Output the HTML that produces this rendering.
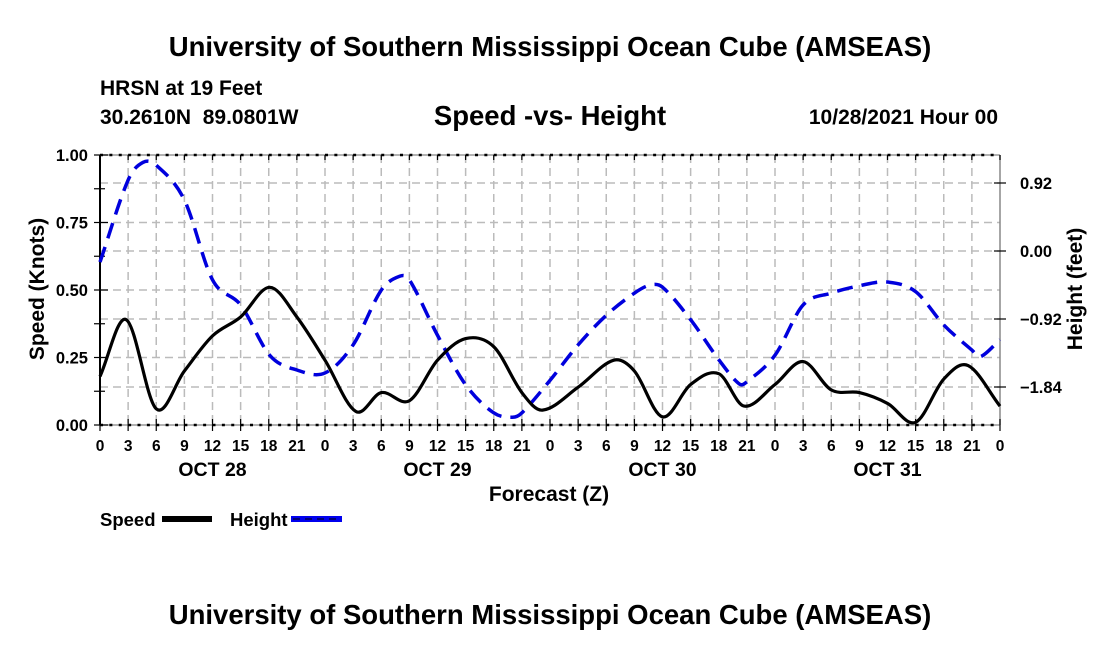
<!DOCTYPE html>
<html><head><meta charset="utf-8"><style>
body{margin:0;background:#fff}
svg{display:block;font-family:"Liberation Sans",sans-serif;font-weight:bold}
</style></head><body>
<svg id="c" width="1100" height="650" viewBox="0 0 1100 650">
<text x="550" y="56" text-anchor="middle" font-size="27.5">University of Southern Mississippi Ocean Cube (AMSEAS)</text>
<text x="100" y="95" font-size="21">HRSN at 19 Feet</text>
<text x="100" y="124" font-size="21">30.2610N&#160;&#160;89.0801W</text>
<text x="550" y="125" text-anchor="middle" font-size="27.5">Speed -vs- Height</text>
<text x="998" y="124" text-anchor="end" font-size="21">10/28/2021 Hour 00</text>
<g id="grid"></g>
<g id="axes"></g>
<g id="series"></g>
<text x="549" y="501" text-anchor="middle" font-size="21">Forecast (Z)</text>
<text transform="translate(44,289) rotate(-90)" text-anchor="middle" font-size="21">Speed (Knots)</text>
<text transform="translate(1082,289) rotate(-90)" text-anchor="middle" font-size="21">Height (feet)</text>
<g>
<text x="100" y="526" font-size="18.5">Speed</text>
<rect x="162" y="516" width="50" height="6" fill="#000"/>
</g>
<g>
<text x="230" y="526" font-size="18.5">Height</text>
<rect x="291" y="516" width="51" height="6" fill="#0000ee"/>
<line x1="293" y1="519" x2="340" y2="519" stroke="#000" stroke-width="1" stroke-dasharray="7,5"/>
</g>
<text x="550" y="624" text-anchor="middle" font-size="27.5">University of Southern Mississippi Ocean Cube (AMSEAS)</text>
</svg>
<script>
const speedHours=[0,2.8,6,9,12,15,18.1,21,24,27.3,30,33,36,39,42,45,47.2,51,54.8,57,60,63,66,68.7,72,75,78,81,84,87,90,92.6,96];
const speedValues=[0.18,0.39,0.06,0.2,0.33,0.40,0.51,0.40,0.24,0.05,0.12,0.09,0.24,0.32,0.29,0.12,0.055,0.14,0.24,0.20,0.03,0.15,0.19,0.07,0.15,0.235,0.13,0.12,0.08,0.01,0.17,0.22,0.07];
const heightHours=[0,3,4.6,6,9,12,15,18.1,21,24,27,30,32,33,36,39,42,44,45,48,51,54,57,58.7,60,63,66,68.2,69,72,75,78,81,84,87,90,93,93.9,96];
const heightValues=[-0.15,0.96,1.2,1.16,0.69,-0.39,-0.73,-1.41,-1.61,-1.65,-1.27,-0.53,-0.34,-0.39,-1.14,-1.81,-2.19,-2.25,-2.19,-1.75,-1.27,-0.87,-0.57,-0.46,-0.49,-0.93,-1.47,-1.80,-1.77,-1.41,-0.73,-0.57,-0.47,-0.42,-0.55,-1.0,-1.34,-1.43,-1.2];
const xTickLabels=["0","3","6","9","12","15","18","21"];
const dayLabels=["OCT 28","OCT 29","OCT 30","OCT 31"];
const speedTicks=[0,0.25,0.5,0.75,1.0];
const heightTicks=[0.92,0,-0.92,-1.84];
const NS="http://www.w3.org/2000/svg";
const X0=100,X1=1000,Y0=425,Y1=155;
const xs=h=>X0+(X1-X0)*h/96;
const ys=v=>Y0-(Y0-Y1)*v;
const yh=f=>251-f*68/0.92;
function mk(t,a,p){const e=document.createElementNS(NS,t);for(const k in a)e.setAttribute(k,a[k]);p.appendChild(e);return e;}
const grid=document.getElementById('grid'),axes=document.getElementById('axes'),ser=document.getElementById('series');
const gs={stroke:"#bbb","stroke-width":1.5,"stroke-dasharray":"8,5"};
for(let h=3;h<96;h+=3){const l=mk('line',Object.assign({x1:xs(h),x2:xs(h),y1:Y1,y2:Y0},gs),grid);

}
speedTicks.slice(1,4).forEach(v=>{const l=mk('line',Object.assign({x1:X0,x2:X1,y1:ys(v),y2:ys(v)},gs),grid);

});
heightTicks.forEach(v=>{const l=mk('line',Object.assign({x1:X0,x2:X1,y1:yh(v),y2:yh(v)},gs),grid);

});
[[X0,Y1,X1,Y1],[X0,Y0,X1,Y0]].forEach(c=>{mk('line',{x1:c[0],y1:c[1],x2:c[2],y2:c[3],stroke:"#999","stroke-width":1.5},axes);
mk('line',{x1:c[0],y1:c[1],x2:c[2],y2:c[3],stroke:"#000","stroke-width":2.5,"stroke-dasharray":"3,6.375"},axes);});
mk('line',{x1:X0,y1:Y1,x2:X0,y2:Y0,stroke:"#000","stroke-width":2},axes);
mk('line',{x1:X1,y1:Y1,x2:X1,y2:Y0,stroke:"#888","stroke-width":1.5},axes);
for(let h=0;h<=96;h+=3){mk('line',{x1:xs(h),x2:xs(h),y1:Y0-6,y2:Y0+6,stroke:"#000","stroke-width":1.2},axes);
mk('line',{x1:xs(h),x2:xs(h),y1:Y1,y2:Y1+5,stroke:"#000","stroke-width":1.2},axes);
const t=mk('text',{x:xs(h),y:451,"text-anchor":"middle","font-size":15.5},axes);t.textContent=xTickLabels[(h/3)%8];

}
dayLabels.forEach((d,i)=>{const t=mk('text',{x:xs(12+24*i),y:476,"text-anchor":"middle","font-size":19.5},axes);t.textContent=d;

});
for(let i=0;i<=8;i++){const v=i*0.125;mk('line',{x1:X0-6,x2:X0+(i%2==0?8:5),y1:ys(v),y2:ys(v),stroke:"#000","stroke-width":1.2},axes);}
speedTicks.forEach(v=>{const t=mk('text',{x:88,y:ys(v)+6,"text-anchor":"end","font-size":16.5},axes);t.textContent=v.toFixed(2);

});
heightTicks.forEach(v=>{mk('line',{x1:X1-6,x2:X1+6,y1:yh(v),y2:yh(v),stroke:"#000","stroke-width":1.2},axes);
const t=mk('text',{x:1020,y:yh(v)+6,"font-size":16.5},axes);
t.textContent=(v<0?'\u2212':'')+Math.abs(v).toFixed(2);

});
function smooth(px){const n=px.length,m=[];
for(let i=0;i<n;i++){const a=px[Math.max(0,i-1)],b=px[Math.min(n-1,i+1)];m.push((b[1]-a[1])/(b[0]-a[0]));}
let d=`M${px[0][0]},${px[0][1]}`;
for(let i=0;i<n-1;i++){const p1=px[i],p2=px[i+1],dx=(p2[0]-p1[0])/3;
d+=`C${p1[0]+dx},${p1[1]+m[i]*dx} ${p2[0]-dx},${p2[1]-m[i+1]*dx} ${p2[0]},${p2[1]}`;}return d;}
const hp=mk('path',{d:smooth(heightHours.map((h,i)=>[xs(h),yh(heightValues[i])])),fill:"none",stroke:"#0000dd","stroke-width":3.5,"stroke-dasharray":"16,9"},ser);


const sp=mk('path',{d:smooth(speedHours.map((h,i)=>[xs(h),ys(speedValues[i])])),fill:"none",stroke:"#000","stroke-width":3.2},ser);


</script>
</body></html>
